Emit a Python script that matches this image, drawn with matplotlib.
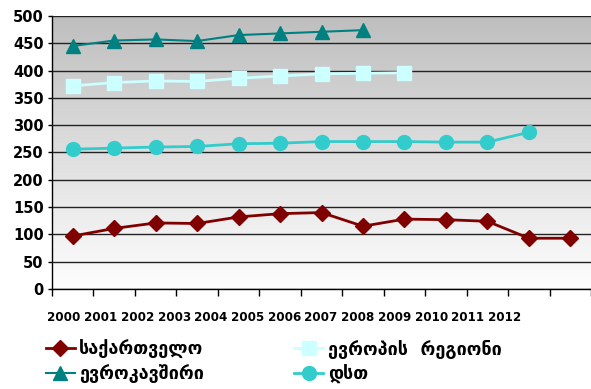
import numpy as np
import matplotlib
matplotlib.use("Agg")
import matplotlib.pyplot as plt
from matplotlib.colors import LinearSegmentedColormap

years = ["2000", "2001", "2002", "2003", "2004", "2005", "2006",
         "2007", "2008", "2009", "2010", "2011", "2012"]

georgia = [97, 111, 121, 120, 132, 138, 140, 115, 128, 127, 124, 93, 93]
eu_region = [372, 378, 381, 380, 386, 390, 394, 395, 396]
eu = [445, 455, 457, 454, 465, 468, 471, 474]
cis = [256, 258, 260, 261, 266, 267, 270, 270, 270, 269, 269, 287]

names = ["საქართველო", "ევროპის  რეგიონი", "ევროკავშირი", "დსთ"]

plt.rcParams['font.family'] = ['DejaVu Sans']
plt.rcParams['font.weight'] = 'bold'

fig = plt.figure(figsize=(5.91, 3.89), dpi=100)
ax = fig.add_axes([0.088, 0.257, 0.912, 0.702])

# gray-to-white gradient behind the plot area
grad = np.linspace(0, 1, 256).reshape(-1, 1)
cmap = LinearSegmentedColormap.from_list("bg", ["#fefefe", "#bebebe"])
ax.imshow(grad, aspect="auto", cmap=cmap, origin="lower",
          extent=[-0.5, 12.5, 0, 500], zorder=0)

x = np.arange(len(years))
l1, = ax.plot(x[:len(georgia)], georgia, color="#800000", marker="D",
              markersize=8.5, lw=2, zorder=3)
l2, = ax.plot(x[:len(eu_region)], eu_region, color="#ccffff", marker="s",
              markersize=9.5, lw=2, zorder=3)
l3, = ax.plot(x[:len(eu)], eu, color="#008080", marker="^",
              markersize=10, lw=1.5, zorder=3)
l4, = ax.plot(x[:len(cis)], cis, color="#33cccc", marker="o",
              markersize=10, lw=2, zorder=3)

ax.set_xlim(-0.5, 12.5)
ax.set_ylim(0, 500)
ax.set_yticks(range(0, 501, 50))
ax.yaxis.grid(True, color="#222222", lw=1)
ax.set_axisbelow(False)
for gl in ax.get_ygridlines():
    gl.set_zorder(1)

ax.set_xticks(np.arange(-0.5, 12.6, 1))
ax.set_xticklabels([])
ax.tick_params(axis="x", length=5, width=1, direction="out")
ax.tick_params(axis="y", length=3, width=1, labelsize=10.5, pad=3)
for s in ["top", "right"]:
    ax.spines[s].set_visible(False)
ax.spines["left"].set_linewidth(1)
ax.spines["bottom"].set_linewidth(1)

# year labels sit on their own scale below the category ticks
ax2 = ax.twiny()
ax2.set_xlim(1999.673, 2014.35)
ax2.xaxis.set_ticks_position("bottom")
ax2.xaxis.set_label_position("bottom")
ax2.set_xticks([int(y) for y in years])
ax2.set_xticklabels(years, fontsize=8.6, fontweight="bold")
ax2.tick_params(axis="x", length=0, pad=15.5)
for s in ax2.spines.values():
    s.set_visible(False)

fig.legend([l1, l3, l2, l4], [names[0], names[2], names[1], names[3]],
           ncol=2, loc="lower left", bbox_to_anchor=(0.05, -0.028),
           frameon=False, handlelength=1.6, handletextpad=0.25,
           columnspacing=5.0, labelspacing=0.32,
           prop={"weight": "bold", "size": 13})

fig.savefig("out.png", dpi=100)
